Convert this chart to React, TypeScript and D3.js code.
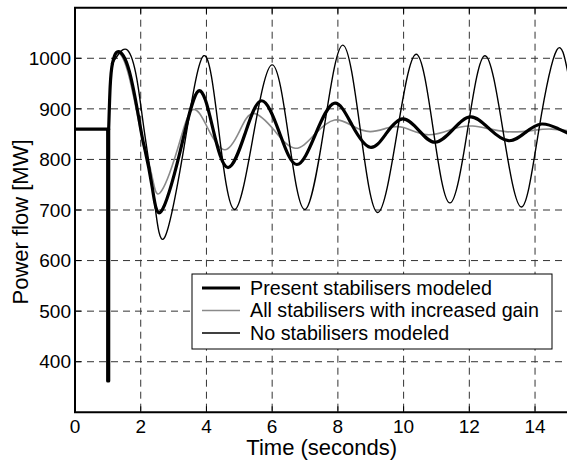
import React from 'react';
import * as d3 from 'd3';

const xTicks = [0, 2, 4, 6, 8, 10, 12, 14];
const yTicks = [400, 500, 600, 700, 800, 900, 1000];

// time (s), power (MW)
const preFault: [number, number][] = [
  [0, 860], [0.995, 860], [0.995, 362], [1.025, 362], [1.025, 860],
];

// fast rise after fault clearing (shared by all three cases)
const recovery: [number, number][] = [
  [1.025, 860], [1.07, 944], [1.14, 990],
];

const presentStab: [number, number][] = [
  [1.14, 990], [1.3, 1013], [1.65, 975], [2.0, 860], [2.13, 819], [2.35, 745], [2.62, 697],
  [3.2, 816], [3.75, 935], [4.2, 860], [4.65, 784], [5.17, 850], [5.68, 916],
  [6.22, 853], [6.75, 790], [7.32, 850], [7.89, 911], [8.43, 868], [8.98, 824],
  [9.48, 852], [9.97, 880], [10.47, 857], [10.96, 834], [11.5, 859], [12.05, 884],
  [12.62, 860], [13.19, 837], [13.7, 853], [14.2, 870], [14.7, 861], [15, 852],
];

const increasedGain: [number, number][] = [
  [1.14, 990], [1.27, 1011], [1.6, 975], [2.0, 855], [2.13, 822], [2.35, 765], [2.59, 734],
  [3.1, 816], [3.57, 898], [4.07, 858], [4.56, 819], [5.0, 855], [5.43, 891],
  [6.07, 857], [6.7, 822], [7.3, 850], [7.9, 878], [8.45, 866], [8.98, 855],
  [9.5, 862], [10.0, 863], [10.7, 849], [11.4, 858], [12.1, 866], [13.1, 855],
  [14.0, 858], [14.5, 860], [15, 857],
];

const noStab: [number, number][] = [
  [1.14, 990], [1.3, 1006], [1.6, 1016], [1.88, 960], [2.1, 860], [2.4, 725],
  [2.72, 645], [3.32, 825], [3.92, 1005], [4.38, 855], [4.85, 701], [5.42, 845],
  [6.0, 987], [6.5, 845], [7.0, 701], [7.58, 862], [8.15, 1026], [8.68, 860],
  [9.21, 695], [9.8, 852], [10.38, 1008], [10.9, 860], [11.41, 714], [11.95, 860],
  [12.48, 1005], [13.03, 855], [13.59, 706], [14.12, 860], [14.66, 1016], [15, 971],
];

const legendLabels = [
  'Present stabilisers modeled',
  'All stabilisers with increased gain',
  'No stabilisers modeled',
];

const FONT = "'Liberation Sans', Arial, Helvetica, sans-serif";

export default function App() {
  const W = 567;
  const H = 462;
  const left = 75;
  const top = 7.7;
  const bottom = 412.3;
  const right = 567.9;

  const x = d3.scaleLinear().domain([0, 15]).range([left, right]);
  const y = d3.scaleLinear().domain([300, 1100]).range([bottom, top]);

  const lin = d3
    .line<[number, number]>()
    .x((d) => x(d[0]))
    .y((d) => y(d[1]));
  const mono = d3
    .line<[number, number]>()
    .x((d) => x(d[0]))
    .y((d) => y(d[1]))
    .curve(d3.curveMonotoneX);
  const nat = d3
    .line<[number, number]>()
    .x((d) => x(d[0]))
    .y((d) => y(d[1]))
    .curve(d3.curveNatural);

  const series = [
    { data: increasedGain, color: '#8a8a8a', width: 1.6 },
    { data: noStab, color: '#000', width: 1.4 },
    { data: presentStab, color: '#000', width: 3.2 },
  ];

  const legendStyles = [
    { color: '#000', width: 3.2 },
    { color: '#8a8a8a', width: 1.6 },
    { color: '#000', width: 1.4 },
  ];

  const lg = { x: 192, y: 274, w: 360, h: 75 };
  const lgRows = [288, 310.5, 333];

  return (
    <svg
      width={W}
      height={H}
      style={{ position: 'fixed', left: 0, top: 0, background: '#fff' }}
      fontFamily={FONT}
    >
      <defs>
        <clipPath id="plotClip">
          <rect x={left} y={top} width={right - left} height={bottom - top} />
        </clipPath>
      </defs>
      <rect x={0} y={0} width={W} height={H} fill="#fff" />

      {/* grid */}
      {xTicks.slice(1).map((t) => (
        <line
          key={'gx' + t}
          x1={x(t)}
          x2={x(t)}
          y1={top}
          y2={bottom}
          stroke="#333"
          strokeWidth={1}
          strokeDasharray="7,5"
        />
      ))}
      {yTicks.map((v) => (
        <line
          key={'gy' + v}
          x1={left}
          x2={right}
          y1={y(v)}
          y2={y(v)}
          stroke="#333"
          strokeWidth={1}
          strokeDasharray="7,5"
        />
      ))}

      {/* ticks inward */}
      {xTicks.map((t) => (
        <g key={'tx' + t}>
          <line x1={x(t)} x2={x(t)} y1={bottom} y2={bottom - 6} stroke="#000" strokeWidth={1} />
          <line x1={x(t)} x2={x(t)} y1={top} y2={top + 6} stroke="#000" strokeWidth={1} />
        </g>
      ))}
      {yTicks.map((v) => (
        <line key={'ty' + v} x1={left} x2={left + 6} y1={y(v)} y2={y(v)} stroke="#000" strokeWidth={1} />
      ))}

      {/* curves */}
      <g clipPath="url(#plotClip)">
        {series.map((s, i) => (
          <g key={'s' + i}>
            <path
              d={mono(recovery) || ''}
              fill="none"
              stroke={s.color}
              strokeWidth={s.width}
              strokeLinejoin="round"
              strokeLinecap="round"
            />
            <path
              d={nat(s.data) || ''}
              fill="none"
              stroke={s.color}
              strokeWidth={s.width}
              strokeLinejoin="round"
              strokeLinecap="round"
            />
          </g>
        ))}
        <path
          d={lin(preFault) || ''}
          fill="none"
          stroke="#000"
          strokeWidth={3.2}
          strokeLinejoin="round"
          strokeLinecap="round"
        />
      </g>

      {/* axes frame */}
      <line x1={left} x2={left} y1={top} y2={bottom} stroke="#000" strokeWidth={2} />
      <line x1={left - 1} x2={right} y1={bottom} y2={bottom} stroke="#000" strokeWidth={2} />
      <line x1={left - 1} x2={right} y1={top} y2={top} stroke="#000" strokeWidth={2} />

      {/* tick labels */}
      {xTicks.map((t) => (
        <text key={'lx' + t} x={x(t)} y={433} fontSize={19} textAnchor="middle" fill="#000">
          {t}
        </text>
      ))}
      {yTicks.map((v) => (
        <text
          key={'ly' + v}
          x={71}
          y={y(v)}
          dy="0.35em"
          fontSize={19}
          textAnchor="end"
          fill="#000"
        >
          {v}
        </text>
      ))}

      {/* axis labels */}
      <text x={321.7} y={455} fontSize={22} textAnchor="middle" fill="#000">
        Time (seconds)
      </text>
      <text
        transform="translate(28,222) rotate(-90)"
        fontSize={22}
        textAnchor="middle"
        fill="#000"
      >
        Power flow [MW]
      </text>

      {/* legend */}
      <rect x={lg.x} y={lg.y} width={lg.w} height={lg.h} fill="#fff" stroke="#000" strokeWidth={1} />
      {legendLabels.map((label, i) => (
        <g key={'lg' + i}>
          <line
            x1={202}
            x2={240}
            y1={lgRows[i]}
            y2={lgRows[i]}
            stroke={legendStyles[i].color}
            strokeWidth={legendStyles[i].width}
          />
          <text x={250} y={lgRows[i]} dy="0.35em" fontSize={19.7} fill="#000">
            {label}
          </text>
        </g>
      ))}
    </svg>
  );
}
